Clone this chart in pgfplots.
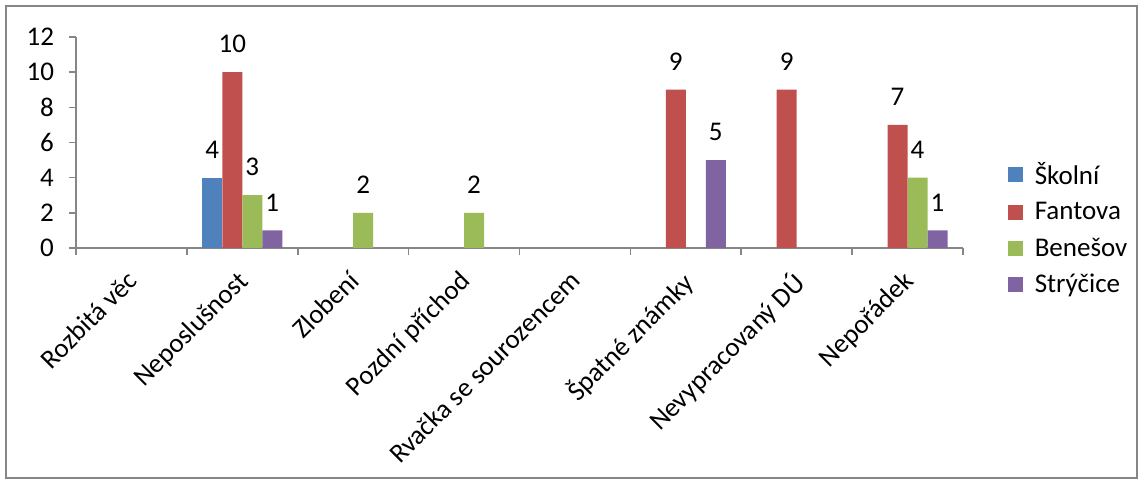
\documentclass[border=0pt]{standalone}
\usepackage{pgfplots}
\pgfplotsset{compat=1.18}
\usepackage{fontspec}
\setmainfont{Carlito}
\definecolor{sBlue}{HTML}{4F81BD}
\definecolor{sRed}{HTML}{C0504D}
\definecolor{sGreen}{HTML}{9BBB59}
\definecolor{sPurple}{HTML}{8064A2}
\definecolor{axgray}{HTML}{868686}
\newcommand{\cf}{\fontsize{13.5}{16}\selectfont}
\begin{document}
\begin{tikzpicture}
\useasboundingbox (0,0) rectangle (572pt,240.5pt);
\draw[color=axgray, line width=0.9pt] (3pt,1.5pt) rectangle (568.5pt,237.5pt);
\begin{axis}[
  at={(38pt,116.5pt)}, anchor=south west,
  scale only axis, width=443.5pt, height=105.5pt,
  ybar=0pt, bar width=10pt,
  xmin=-0.5, xmax=7.5, ymin=0, ymax=12,
  ytick={0,2,...,12},
  xtick={-0.5,0.5,...,7.5},
  xticklabels={},
  extra x ticks={0,...,7},
  extra x tick labels={Rozbitá věc, Neposlušnost, Zlobení, Pozdní příchod, Rvačka se sourozencem, Špatné známky, Nevypracovaný DÚ, Nepořádek},
  extra x tick style={major tick length=0pt},
  axis x line*=bottom, axis y line*=left,
  axis line style={draw=axgray, line width=0.8pt, -},
  tick align=outside,
  tick style={draw=axgray, line width=0.8pt},
  major tick length=3.5pt,
  /pgf/number format/assume math mode=true,
  tick label style={font=\cf},
  yticklabel style={xshift=-4pt},
  xticklabel style={xshift=-3pt, yshift=-9pt, rotate=45, anchor=north east, inner sep=1pt},
  nodes near coords,
  every node near coord/.append style={anchor=south, inner sep=0pt, yshift=9.5pt, font=\cf, text=black},
  legend style={draw=none, fill=none, at={(1.05,0.09)}, anchor=west, font=\cf, row sep=3.5pt, inner sep=0pt},
  legend cell align=left,
  legend image code/.code={\fill[#1] (0pt,-3.75pt) rectangle (7.5pt,3.75pt); \path (11.5pt,0pt);},
]
\addplot[fill=sBlue, draw=none] coordinates {(1,4)};
\addplot[fill=sRed, draw=none] coordinates {(1,10) (5,9) (6,9) (7,7)};
\addplot[fill=sGreen, draw=none] coordinates {(1,3) (2,2) (3,2) (7,4)};
\addplot[fill=sPurple, draw=none] coordinates {(1,1) (5,5) (7,1)};
\legend{Školní, Fantova, Benešov, Strýčice}
\end{axis}
\end{tikzpicture}
\end{document}
